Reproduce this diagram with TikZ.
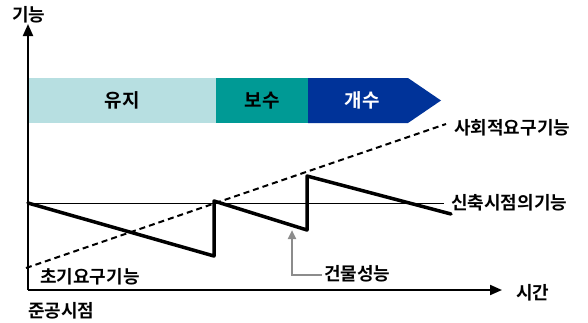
\documentclass[tikz,border=0pt]{standalone}
\usepackage{fontspec}
\setmainfont{Noto Sans CJK KR}[BoldFont={Noto Sans CJK KR Bold}]
\usetikzlibrary{arrows.meta}
\definecolor{lightteal}{HTML}{B7DFE1}
\definecolor{teal2}{HTML}{009A95}
\definecolor{navy2}{HTML}{003399}
\begin{document}
\begin{tikzpicture}[x=1pt,y=-1pt,
  lbl/.style={font=\fontsize{18}{19}\selectfont\bfseries, inner sep=0pt},
  bandtxt/.style={font=\fontsize{19}{20}\selectfont\bfseries, inner sep=0pt},
  axis/.style={line width=2pt, -{Triangle[length=12pt,width=10pt]}},
  saw/.style={line width=3.5pt, line join=round, line cap=round},
  req/.style={line width=2pt, dash pattern=on 6pt off 4pt},
  base/.style={line width=1pt},
  pointer/.style={line width=2.5pt, color=gray!90, -{Triangle[length=9pt,width=8pt]}}]
\useasboundingbox (0,0) rectangle (588,322);

% band
\fill[lightteal] (28,78) rectangle (216,123);
\fill[teal2] (216,78) rectangle (308,123);
\fill[navy2] (308,78) -- (408,78) -- (441,100.5) -- (408,123) -- (308,123) -- cycle;
\node[bandtxt] (yuji) at (122,100.5) {유지};
\node[bandtxt] (bosu) at (262,100.5) {보수};
\node[bandtxt, text=white] (gaesu) at (362,100.5) {개수};

% axes
\coordinate (O) at (28,290);
\coordinate (ytop) at (28,24);
\coordinate (xend) at (502,290);
\draw[axis] (O) -- (ytop);
\draw[axis] (O) -- (xend);
\node[lbl, anchor=west] (ylab) at (12,15) {기능};
\node[lbl, anchor=west] (xlab) at (516,293) {시간};
\node[lbl, anchor=west] (jun) at (28,311) {준공시점};

% baseline (new-build function)
\coordinate (b0) at (28,203);
\coordinate (b1) at (444,203);
\draw[base] (b0) -- (b1);
\node[lbl, anchor=west] (shin) at (451,203) {신축시점의기능};

% social requirement (dashed)
\coordinate (r0) at (26,268);
\coordinate (r1) at (446,124);
\draw[req] (r0) -- (r1);
\node[lbl, anchor=west] (sahoe) at (454,128) {사회적요구기능};
\node[lbl, anchor=west] (chogi) at (40,277) {초기요구기능};

% sawtooth performance
\coordinate (s0) at (28,203);
\coordinate (s1) at (214,256);
\coordinate (s2) at (214,201);
\coordinate (s3) at (307,230);
\coordinate (s4) at (307,176);
\coordinate (s5) at (451,214);
\draw[saw] (s0) -- (s1) -- (s2) -- (s3) -- (s4) -- (s5);

% pointer
\coordinate (p0) at (322,275);
\coordinate (p1) at (292,275);
\coordinate (p2) at (292,230);
\draw[pointer, line join=miter] (p0) -- (p1) -- (p2);
\node[lbl, anchor=west] (geon) at (324,274) {건물성능};
\end{tikzpicture}
\end{document}
